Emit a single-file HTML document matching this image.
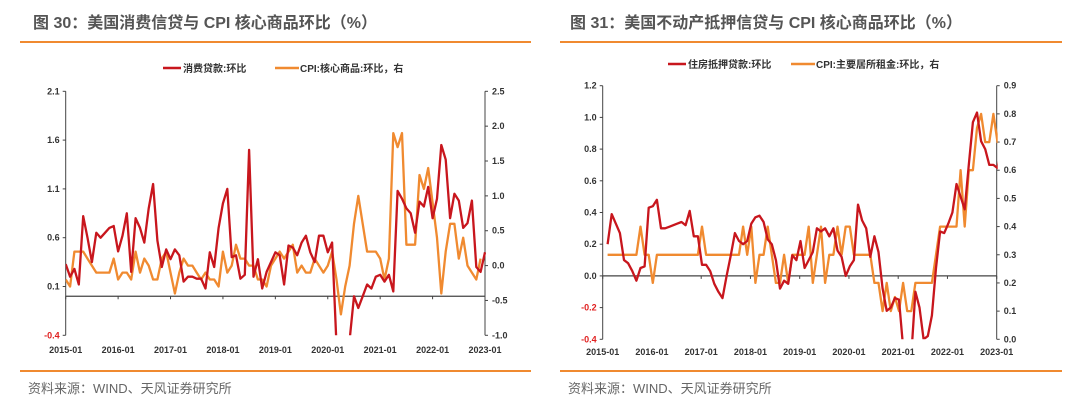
<!DOCTYPE html>
<html><head><meta charset="utf-8">
<style>
html,body{margin:0;padding:0;background:#fff;}
body{width:1080px;height:407px;overflow:hidden;font-family:"Liberation Sans","Noto Sans CJK SC",sans-serif;}
svg{position:absolute;left:0;top:0;}
</style></head>
<body>
<svg id="chart" width="1080" height="407"></svg>
<script>
// ---- Chart 30 data ----
const xTickLabels = ["2015-01","2016-01","2017-01","2018-01","2019-01","2020-01","2021-01","2022-01","2023-01"];
const leftTicks1 = ["2.1","1.6","1.1","0.6","0.1","-0.4"];
const rightTicks1 = ["2.5","2.0","1.5","1.0","0.5","0.0","-0.5","-1.0"];
const consumerLoan = [0.33,0.2,0.28,0.12,0.82,0.6,0.35,0.65,0.6,0.65,0.7,0.72,
 0.46,0.62,0.85,0.25,0.8,0.7,0.55,0.9,1.15,0.57,0.3,0.48,
 0.38,0.48,0.42,0.15,0.2,0.2,0.18,0.18,0.08,0.45,0.3,0.7,
 0.95,1.1,0.4,0.42,0.18,0.22,1.5,0.2,0.38,0.08,0.25,0.35,
 0.45,0.42,0.12,0.52,0.5,0.42,0.55,0.62,0.45,0.35,0.62,
 0.62,0.45,0.55,-0.5,-1.0,-1.2,-0.45,0.0,-0.12,0.0,0.12,0.08,0.2,0.22,0.15,0.22,0.05,
 1.08,1.0,0.9,0.85,0.65,0.97,0.92,1.12,0.8,1.0,1.55,1.4,0.8,1.05,0.98,0.7,0.75,0.98,0.3,0.25,0.45];
const coreGoods = [-0.2,-0.3,0.2,0.2,0.2,0.1,0.0,-0.1,-0.1,-0.1,-0.1,0.1,
 -0.2,-0.1,-0.1,-0.2,0.2,-0.1,0.1,0.0,-0.2,-0.2,0.1,0.2,
 -0.1,-0.4,-0.1,0.1,0.0,0.0,-0.1,-0.2,-0.1,-0.2,-0.2,-0.3,
 0.2,-0.1,0.0,0.3,0.1,0.1,0.0,0.0,-0.2,-0.2,-0.3,0.0,
 0.1,0.2,0.1,0.2,0.3,-0.1,0.0,-0.1,-0.1,0.1,0.0,
 -0.1,0.0,0.2,-0.2,-0.7,-0.3,0.0,0.6,1.0,0.6,0.2,0.2,0.2,0.1,-0.2,0.1,
 1.9,1.7,1.9,0.3,0.3,0.3,1.3,1.1,1.4,0.9,0.4,-0.4,0.2,0.6,0.6,0.1,0.4,0.0,-0.1,-0.2,0.1];
// ---- Chart 31 data ----
const leftTicks2 = ["1.2","1.0","0.8","0.6","0.4","0.2","0.0","-0.2","-0.4"];
const rightTicks2 = ["0.9","0.8","0.7","0.6","0.5","0.4","0.3","0.2","0.1","0.0"];
const mortgage = [0.2,0.39,0.33,0.27,0.1,0.08,0.03,-0.03,0.05,0.06,0.43,0.44,
 0.48,0.3,0.3,0.31,0.32,0.33,0.34,0.32,0.41,0.25,0.25,0.07,
 0.07,0.03,-0.05,-0.1,-0.14,0.0,0.13,0.27,0.22,0.2,0.22,0.33,
 0.37,0.38,0.34,0.23,0.2,0.1,-0.08,-0.03,-0.05,0.13,0.1,0.22,
 0.05,0.1,0.15,0.3,0.28,0.3,0.25,0.3,0.16,0.12,0.0,0.06,
 0.1,0.45,0.35,0.3,0.12,0.25,0.15,-0.08,-0.22,-0.2,-0.14,-0.15,
 -0.45,-0.5,-0.5,-0.1,-0.2,-0.4,-0.38,-0.25,0.05,0.28,0.27,0.33,
 0.4,0.58,0.5,0.42,0.7,0.97,1.03,0.85,0.8,0.7,0.7,0.68,
 0.8,0.83];
const rent = [0.3,0.3,0.3,0.3,0.3,0.3,0.3,0.3,0.4,0.3,0.3,0.2,
 0.3,0.3,0.3,0.3,0.3,0.3,0.3,0.3,0.3,0.3,0.3,0.4,
 0.3,0.3,0.3,0.3,0.3,0.3,0.3,0.3,0.3,0.4,0.3,0.4,
 0.2,0.3,0.3,0.4,0.3,0.2,0.2,0.3,0.2,0.3,0.3,0.3,
 0.3,0.4,0.2,0.3,0.4,0.2,0.3,0.3,0.4,0.3,0.4,0.4,
 0.3,0.3,0.3,0.3,0.3,0.2,0.2,0.1,0.2,0.1,0.15,0.1,
 0.2,0.1,0.1,0.2,0.2,0.2,0.2,0.2,0.3,0.4,0.4,0.4,
 0.4,0.4,0.6,0.4,0.6,0.6,0.75,0.8,0.7,0.7,0.8,0.7,
 0.8,0.7];

const NS="http://www.w3.org/2000/svg";
const svg=document.getElementById('chart');
function mk(tag,attrs,parent){const e=document.createElementNS(NS,tag);for(const k in attrs)e.setAttribute(k,attrs[k]);(parent||svg).appendChild(e);return e;}
function txt(x,y,s,attrs,parent){const t=mk('text',Object.assign({x:x,y:y},attrs),parent);t.textContent=s;return t;}

function drawPanel(p){
  const g=mk('g',{});
  
  
  const t=txt(p.titleX,28,p.title,{'font-size':'16','font-weight':'bold',fill:'#555'},g);
  
  
  mk('line',{x1:p.lineX1,x2:p.lineX2,y1:42,y2:42,stroke:'#f08a30','stroke-width':2},g);
  mk('line',{x1:p.lineX1,x2:p.lineX2,y1:371,y2:371,stroke:'#f08a30','stroke-width':2},g);
  const src=txt(p.lineX1+8,393,'资料来源：WIND、天风证券研究所',{'font-size':'13',fill:'#666'},g);
  
  
  const x0=p.x0,x1=p.x1,yT=p.yT,yB=p.yB;
  const xs=i=>x0+(x1-x0)*i/96;
  const yl=v=>yT+(p.lMax-v)/(p.lMax-p.lMin)*(yB-yT);
  const yr=v=>yT+(p.rMax-v)/(p.rMax-p.rMin)*(yB-yT);
  mk('line',{x1:x0,x2:x0,y1:yT,y2:yB,stroke:'#444','stroke-width':1},g);
  mk('line',{x1:x1,x2:x1,y1:yT,y2:yB,stroke:'#444','stroke-width':1},g);
  const z=yl(0);
  const xa=mk('line',{x1:x0,x2:x1,y1:z,y2:z,stroke:'#444','stroke-width':1.3},g);
  
  
  p.lTicks.forEach(s=>{const v=parseFloat(s);const y=yl(v);
    mk('line',{x1:x0-3,x2:x0,y1:y,y2:y,stroke:'#444'},g);
    const l=txt(x0-6,y+3,s,{'font-size':'9','font-weight':'bold','text-anchor':'end',fill:v<0?'#e02020':'#333'},g);
    
    });
  p.rTicks.forEach(s=>{const v=parseFloat(s);const y=yr(v);
    mk('line',{x1:x1,x2:x1+3,y1:y,y2:y,stroke:'#444'},g);
    const l=txt(x1+7,y+3,s,{'font-size':'9','font-weight':'bold',fill:'#333'},g);
    
    });
  xTickLabels.forEach((s,k)=>{const x=xs(k*12);
    mk('line',{x1:x,x2:x,y1:z,y2:z+3,stroke:'#444'},g);
    const l=txt(x,p.xLabY,s,{'font-size':'9','font-weight':'bold','text-anchor':'middle',fill:'#333'},g);
    
    });
  const cid='clip'+p.name;
  const cp=mk('clipPath',{id:cid},g);
  mk('rect',{x:x0,y:yT-2,width:x1-x0+1,height:yB-yT+2},cp);
  const pathOf=(arr,f)=>arr.map((v,i)=>(i?'L':'M')+xs(i+p.off).toFixed(1)+','+f(v).toFixed(1)).join('');
  const so=mk('path',{d:pathOf(p.rData,yr),fill:'none',stroke:'#f08a30','stroke-width':2.3,'clip-path':'url(#'+cid+')','stroke-linejoin':'round'},g);
  
  
  const sr=mk('path',{d:pathOf(p.lData,yl),fill:'none',stroke:'#c8161d','stroke-width':2.3,'clip-path':'url(#'+cid+')','stroke-linejoin':'round'},g);
  
  
  const lg=mk('g',{},g);
  
  
  mk('line',{x1:p.legX,x2:p.legX+18,y1:p.legY,y2:p.legY,stroke:'#c8161d','stroke-width':2.5},lg);
  txt(p.legX+20,p.legY+4,p.leg1,{'font-size':'10','font-weight':'bold',fill:'#333'},lg);
  mk('line',{x1:p.legX2,x2:p.legX2+24,y1:p.legY,y2:p.legY,stroke:'#f08a30','stroke-width':2.5},lg);
  txt(p.legX2+25,p.legY+4,p.leg2,{'font-size':'10','font-weight':'bold',fill:'#333'},lg);
}
drawPanel({name:'chart-30',title:'图 30：美国消费信贷与 CPI 核心商品环比（%）',titleX:33,lineX1:20,lineX2:531,
  x0:65.7,x1:485,yT:91.3,yB:335.3,lMax:2.1,lMin:-0.4,rMax:2.5,rMin:-1.0,off:0,
  lTicks:leftTicks1,rTicks:rightTicks1,lData:consumerLoan,rData:coreGoods,xLabY:353,
  legX:163,legX2:275,legY:68,leg1:'消费贷款:环比',leg2:'CPI:核心商品:环比，右'});
drawPanel({name:'chart-31',title:'图 31：美国不动产抵押信贷与 CPI 核心商品环比（%）',titleX:570,lineX1:560,lineX2:1062,
  x0:602.7,x1:996.7,yT:85.7,yB:339.3,lMax:1.2,lMin:-0.4,rMax:0.9,rMin:0.0,off:1.2,
  lTicks:leftTicks2,rTicks:rightTicks2,lData:mortgage,rData:rent,xLabY:355,
  legX:668,legX2:791,legY:64,leg1:'住房抵押贷款:环比',leg2:'CPI:主要居所租金:环比，右'});
</script>
</body></html>
